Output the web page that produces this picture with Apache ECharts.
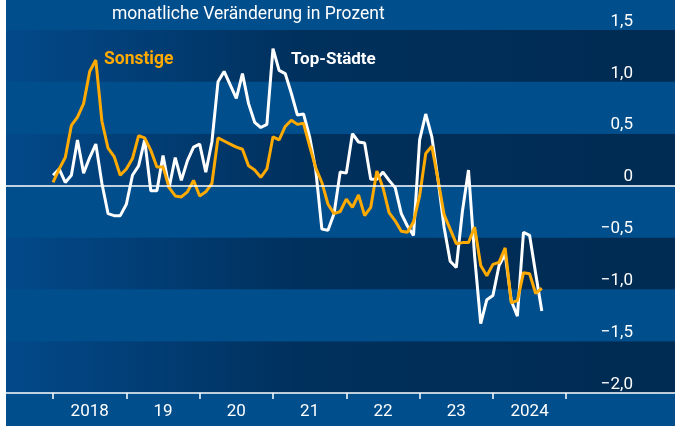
<!DOCTYPE html>
<html>
<head>
<meta charset="utf-8">
<script src="https://cdn.jsdelivr.net/npm/echarts@6/dist/echarts.min.js"></script>
<style>
html, body { margin: 0; padding: 0; background: #fff; }
#chart { position: absolute; left: 6px; top: 0; width: 669px; height: 426px; }
</style>
</head>
<body>
<div id="chart"></div>
<script>
// monthly values, Jan 2018 .. Sep 2024
const topStaedte = [
  0.10, 0.16, 0.03, 0.10, 0.44, 0.12, 0.27, 0.40, 0.02, -0.27, -0.29, -0.29,
  -0.18, 0.10, 0.19, 0.44, -0.05, -0.05, 0.29, -0.02, 0.27, 0.05, 0.24, 0.37,
  0.40, 0.13, 0.42, 1.00, 1.10, 0.97, 0.84, 1.08, 0.79, 0.61, 0.56, 0.59,
  1.32, 1.11, 1.08, 0.89, 0.68, 0.69, 0.47, 0.15, -0.42, -0.43, -0.27, 0.13,
  0.12, 0.50, 0.42, 0.41, 0.06, 0.06, 0.13, 0.05, -0.02, -0.27, -0.39, -0.48,
  0.44, 0.69, 0.47, 0.06, -0.40, -0.73, -0.79, -0.25, 0.15, -0.68, -1.33, -1.10,
  -1.06, -0.77, -0.66, -1.11, -1.26, -0.45, -0.48, -0.85, -1.21
]
const sonstige = [
  0.03, 0.16, 0.27, 0.58, 0.66, 0.79, 1.10, 1.21, 0.62, 0.36, 0.28, 0.10,
  0.16, 0.26, 0.48, 0.46, 0.34, 0.18, 0.18, -0.02, -0.10, -0.11, -0.06, 0.05,
  -0.10, -0.06, 0.02, 0.46, 0.43, 0.40, 0.37, 0.35, 0.19, 0.15, 0.08, 0.16,
  0.47, 0.44, 0.57, 0.63, 0.59, 0.60, 0.38, 0.17, 0.03, -0.18, -0.27, -0.25,
  -0.13, -0.21, -0.09, -0.29, -0.21, 0.14, -0.02, -0.26, -0.34, -0.44, -0.45, -0.35,
  -0.10, 0.31, 0.38, 0.06, -0.28, -0.42, -0.56, -0.55, -0.55, -0.40, -0.77, -0.87,
  -0.76, -0.74, -0.60, -1.13, -1.11, -0.84, -0.85, -1.04, -0.99
]
const yearLabels = ['2018', '19', '20', '21', '22', '23', '2024']
const yearTicks = [0, 12, 24, 36, 48, 60, 72, 84] // months since Jan 2018
const yearLabelPos = yearLabels.map((_, i) => i * 12 + 6)

const light = '#004e8c'
const dark = new echarts.graphic.LinearGradient(0, 0, 1, 0, [
  { offset: 0, color: '#03498a' },
  { offset: 0.45, color: '#00305c' },
  { offset: 1, color: '#002b52' }
])

const toPairs = arr => arr.map((v, i) => [i, v])
const fmtY = v => {
  if (v === 0) return '0'
  return (v < 0 ? '\u2212' : '') + Math.abs(v).toFixed(1).replace('.', ',')
}

const chart = echarts.init(document.getElementById('chart'))
chart.setOption({
  animation: false,
  backgroundColor: light,
  textStyle: { fontFamily: 'Roboto' },
  grid: { left: 0, right: 0, top: 30, bottom: 33 },
  xAxis: {
    type: 'value',
    min: -7.7,
    max: 101.8,
    splitLine: { show: false },
    axisLine: { show: true, onZero: false, lineStyle: { color: '#fff', width: 1.5 } },
    axisTick: { show: true, customValues: yearTicks, length: 6, lineStyle: { color: '#fff', width: 1.5 } },
    axisLabel: {
      customValues: yearLabelPos,
      formatter: v => yearLabels[Math.round((v - 6) / 12)],
      color: '#fff',
      fontSize: 17,
      margin: 10
    }
  },
  yAxis: {
    type: 'value',
    position: 'right',
    min: -2,
    max: 1.5,
    interval: 0.5,
    axisLine: { show: false },
    axisTick: { show: false },
    splitLine: { show: false },
    splitArea: { show: true, areaStyle: { color: [dark, light] } },
    axisLabel: {
      inside: true,
      margin: 42,
      color: '#fff',
      fontSize: 17,
      verticalAlign: 'bottom',
      formatter: fmtY
    }
  },
  graphic: {
    elements: [
      { type: 'text', z: 100, left: 106, top: 6, style: { text: 'monatliche Veränderung in Prozent', fill: '#fff', font: '17.5px Roboto' } },
      { type: 'text', z: 100, left: 98, top: 51, style: { text: 'Sonstige', fill: '#ffaa00', font: 'bold 17.5px Roboto' } },
      { type: 'text', z: 100, left: 285, top: 51, style: { text: 'Top-Städte', fill: '#fff', font: 'bold 17px Roboto' } }
    ]
  },
  series: [
    {
      type: 'line',
      data: [],
      markLine: {
        silent: true,
        symbol: 'none',
        label: { show: false },
        lineStyle: { color: '#fff', width: 1.5, type: 'solid' },
        data: [{ yAxis: 0 }]
      }
    },
    {
      name: 'Top-Städte',
      type: 'line',
      symbol: 'none',
      lineStyle: { color: '#fff', width: 3 },
      data: toPairs(topStaedte)
    },
    {
      name: 'Sonstige',
      type: 'line',
      symbol: 'none',
      lineStyle: { color: '#ffaa00', width: 3 },
      data: toPairs(sonstige)
    }
  ]
})
</script>
</body>
</html>
